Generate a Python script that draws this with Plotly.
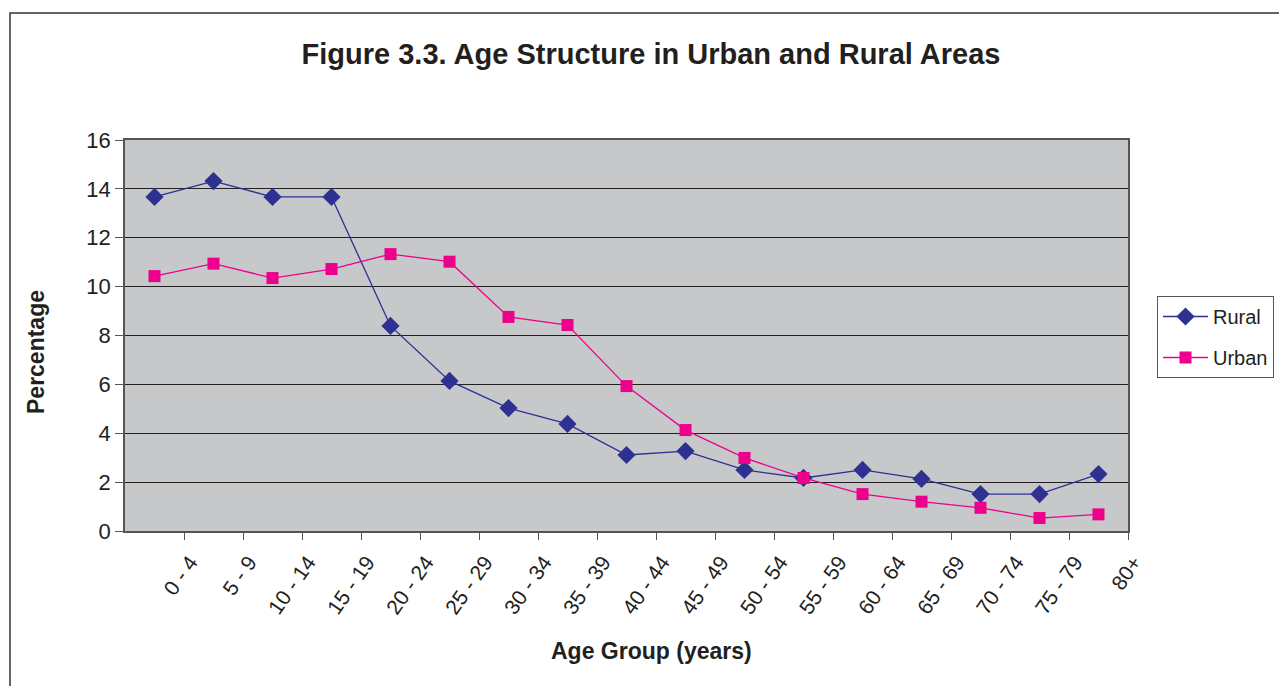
import plotly.graph_objects as go

age_groups = ["0 - 4", "5 - 9", "10 - 14", "15 - 19", "20 - 24", "25 - 29", "30 - 34",
              "35 - 39", "40 - 44", "45 - 49", "50 - 54", "55 - 59", "60 - 64",
              "65 - 69", "70 - 74", "75 - 79", "80+"]
rural = [13.67, 14.32, 13.67, 13.67, 8.39, 6.14, 5.03, 4.38, 3.11, 3.27,
         2.50, 2.17, 2.50, 2.13, 1.51, 1.51, 2.33]
urban = [10.43, 10.94, 10.35, 10.72, 11.33, 11.02, 8.76, 8.43, 5.93, 4.13,
         2.99, 2.17, 1.51, 1.20, 0.95, 0.53, 0.68]
y_ticks = [0, 2, 4, 6, 8, 10, 12, 14, 16]

# points sit in the middle of each category slot; labels sit on slot boundaries
x_pts = [i + 0.5 for i in range(len(age_groups))]
x_ticks = [i + 1 for i in range(len(age_groups))]

FONT = "Liberation Sans, Arial, sans-serif"
TXT = "#231f20"
W, H = 1279, 686
L, R, T, B = 125, 151, 140, 155
pw, ph = W - L - R, H - T - B


def px_x(p):
    return (p - L) / pw


def px_y(p):
    return (T + ph - p) / ph


fig = go.Figure()
fig.add_trace(go.Scatter(
    x=x_pts, y=rural, name="Rural", mode="lines+markers", legendgroup="rural",
    line=dict(color="#2e3192", width=1.3),
    marker=dict(symbol="diamond", size=14, color="#2e3192"),
))
fig.add_trace(go.Scatter(
    x=x_pts, y=urban, name="Urban", mode="lines+markers", legendgroup="urban",
    line=dict(color="#ec008c", width=1.3),
    marker=dict(symbol="square", size=12, color="#ec008c"),
))

# outer chart frame
fig.add_shape(type="rect", xref="paper", yref="paper",
              x0=px_x(10), x1=px_x(W + 10), y0=px_y(H + 10), y1=px_y(13),
              line=dict(color="#333333", width=1.5), fillcolor="rgba(0,0,0,0)",
              layer="below")

fig.add_annotation(text="<b>Percentage</b>", xref="paper", yref="paper",
                   x=px_x(36), y=px_y(352), textangle=-90, showarrow=False,
                   xanchor="center", yanchor="middle",
                   font=dict(size=23, family=FONT, color=TXT))
fig.add_annotation(text="<b>Age Group (years)</b>", xref="paper", yref="paper",
                   x=px_x(651), y=px_y(651), showarrow=False,
                   xanchor="center", yanchor="middle",
                   font=dict(size=23, family=FONT, color=TXT))

fig.update_layout(
    width=W, height=H,
    margin=dict(l=L, r=R, t=T, b=B, autoexpand=False),
    paper_bgcolor="white",
    plot_bgcolor="#c7c8ca",
    font=dict(family=FONT, color=TXT),
    title=dict(text="<b>Figure 3.3. Age Structure in Urban and Rural Areas</b>",
               x=651 / W, xanchor="center", y=1 - 54 / H, yanchor="middle",
               font=dict(size=29, family=FONT, color=TXT)),
    showlegend=True,
    legend=dict(xref="container", yref="container",
                x=1157 / W, xanchor="left", y=1 - 296 / H, yanchor="top",
                bgcolor="white", bordercolor="#555555", borderwidth=1,
                font=dict(size=20, family=FONT, color=TXT),
                tracegroupgap=12, itemwidth=45),
    xaxis=dict(
        range=[0, len(age_groups)],
        tickmode="array", tickvals=x_ticks, ticktext=age_groups,
        tickangle=-55, tickfont=dict(size=21, family=FONT, color=TXT),
        ticks="outside", ticklen=7, tickcolor="#555555",
        ticklabelstandoff=2, ticklabelshift=6,
        showgrid=False, zeroline=False, automargin=False,
        showline=True, linecolor="#555555", linewidth=1.5, mirror=True,
    ),
    yaxis=dict(
        range=[0, 16], tickvals=y_ticks,
        tickfont=dict(size=22, family=FONT, color=TXT),
        ticks="outside", ticklen=8, tickcolor="#555555",
        showgrid=True, gridcolor=TXT, gridwidth=1.2,
        zeroline=False, automargin=False,
        showline=True, linecolor="#555555", linewidth=1.5, mirror=True,
    ),
)

fig.write_html("out.html")
